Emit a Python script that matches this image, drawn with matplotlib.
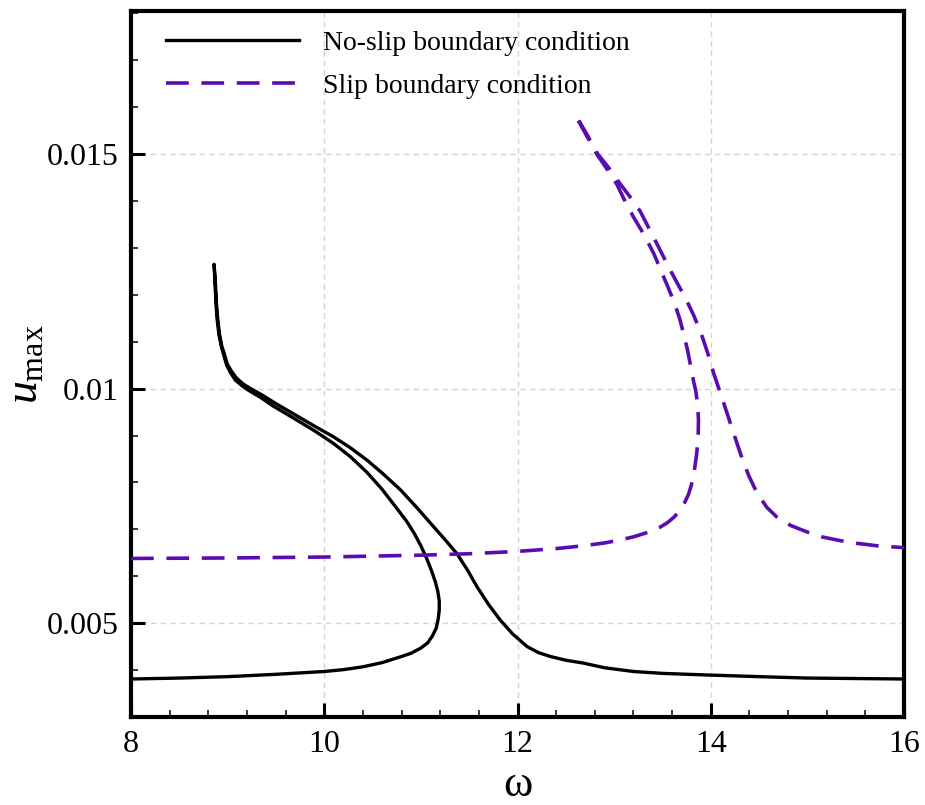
import matplotlib
matplotlib.use("Agg")
import matplotlib.pyplot as plt
from matplotlib.ticker import MultipleLocator, FuncFormatter

plt.rcParams['font.family'] = ['Liberation Serif', 'DejaVu Serif']
plt.rcParams['mathtext.fontset'] = 'custom'
plt.rcParams['mathtext.rm'] = 'Liberation Serif'
plt.rcParams['mathtext.it'] = 'Liberation Serif:italic'

# No-slip boundary condition: continuous frequency-response path
noslip_omega = [8.0, 8.5, 9.0, 9.5, 10.0, 10.2, 10.4, 10.6, 10.8, 10.9, 11.0, 11.07,
                11.12, 11.16, 11.18, 11.19, 11.19, 11.175, 11.15, 11.11, 11.06, 11.0,
                10.93, 10.85, 10.75, 10.6, 10.44, 10.27, 10.09, 9.9, 9.7, 9.47, 9.35,
                9.22, 9.15, 9.08, 9.03, 8.99, 8.955, 8.935, 8.91, 8.89, 8.88, 8.87, 8.86,
                8.875, 8.885, 8.897, 8.917, 8.94, 8.962, 8.995, 9.04, 9.09, 9.16, 9.23,
                9.36, 9.5, 9.7, 9.9, 10.09, 10.27, 10.44, 10.6, 10.79, 10.96, 11.13,
                11.25, 11.37, 11.48, 11.58, 11.7, 11.82, 11.95, 12.10, 12.22, 12.34,
                12.5, 12.68, 12.9, 13.2, 13.5, 13.9, 14.5, 15.0, 15.5, 16.0]
noslip_u = [0.00381, 0.00383, 0.00386, 0.00391, 0.00397, 0.00401, 0.00407, 0.00416,
            0.00429, 0.00436, 0.00447, 0.00458, 0.00473, 0.0049, 0.0051, 0.00528,
            0.00548, 0.00568, 0.00588, 0.00612, 0.00638, 0.00665, 0.00692, 0.00718,
            0.00745, 0.00785, 0.00822, 0.00855, 0.00884, 0.0091, 0.00935, 0.00963,
            0.00980, 0.00996, 0.01006, 0.01018, 0.01034, 0.0105, 0.01075, 0.0109,
            0.01115, 0.0115, 0.0118, 0.0122, 0.01265,
            0.0122, 0.0118, 0.0115, 0.01115, 0.0109, 0.01077, 0.01053, 0.01037,
            0.01023, 0.0101, 0.01001, 0.00986, 0.00968, 0.00944, 0.0092, 0.00898,
            0.00874, 0.00848, 0.0082, 0.00784, 0.00746, 0.00706, 0.00678, 0.00649,
            0.00614, 0.00578, 0.0054, 0.00507, 0.00477, 0.0045, 0.00437, 0.00429,
            0.00421, 0.00415, 0.00405, 0.00397, 0.00393, 0.0039, 0.00386, 0.00383,
            0.00382, 0.00381]

# Slip boundary condition
slip_omega = [8.0, 9.0, 10.0, 11.0, 11.5, 12.0, 12.4, 12.68, 12.9, 13.03, 13.2, 13.37,
              13.47, 13.55, 13.62, 13.68, 13.73, 13.77, 13.80, 13.83, 13.855, 13.87,
              13.873, 13.865, 13.845, 13.82, 13.79, 13.76, 13.72, 13.68, 13.62, 13.55,
              13.48, 13.41, 13.31, 13.2, 13.1, 13.03, 12.92, 12.82, 12.7, 12.6,
              12.71, 12.83, 12.94, 13.05, 13.16, 13.27, 13.42, 13.58, 13.74, 13.82,
              13.9, 13.97, 14.03, 14.1, 14.17, 14.24, 14.31, 14.39, 14.48, 14.58,
              14.68, 14.83, 14.99, 15.15, 15.34, 15.52, 15.72, 16.0]
slip_u = [0.00638, 0.00639, 0.00641, 0.00645, 0.00648, 0.00653, 0.00659, 0.00665,
          0.00671, 0.00676, 0.00684, 0.00695, 0.00704, 0.00714, 0.00726, 0.0074,
          0.00757, 0.00775, 0.00795, 0.00825, 0.00862, 0.009, 0.00933, 0.00965,
          0.00995, 0.01018, 0.0105, 0.01082, 0.01116, 0.01148, 0.01185, 0.0122,
          0.01254, 0.01288, 0.01328, 0.01366, 0.01405, 0.01435, 0.0147, 0.0150,
          0.01545, 0.01583,
          0.01545, 0.0150, 0.01472, 0.0144, 0.0141, 0.01378, 0.01318, 0.01253,
          0.01192, 0.01158, 0.01118, 0.01075, 0.01033, 0.0099, 0.00947, 0.00903,
          0.0086, 0.00816, 0.00777, 0.00747, 0.00727, 0.00708, 0.00695, 0.00684,
          0.00676, 0.0067, 0.00665, 0.00661]

labels = ['No-slip boundary condition', 'Slip boundary condition']
x_ticks = [8, 10, 12, 14, 16]
y_ticks = [0.005, 0.01, 0.015]

fig = plt.figure(figsize=(9.25, 8.05), dpi=100)
ax = fig.add_axes([131/925, 1-717/805, (904-131)/925, (717-11)/805])

ax.plot(noslip_omega, noslip_u, color='black', lw=2.4, label=labels[0], zorder=3,
        solid_joinstyle='round')
ax.plot(slip_omega, slip_u, color='#5A0CB0', lw=2.6, dashes=(6.3, 3.5),
        label=labels[1], zorder=3)

ax.set_xlim(8, 16)
ax.set_ylim(0.003, 0.01805)
ax.set_xticks(x_ticks)
ax.set_yticks(y_ticks)
ax.xaxis.set_minor_locator(MultipleLocator(0.4))
ax.yaxis.set_minor_locator(MultipleLocator(0.001))
ax.yaxis.set_major_formatter(FuncFormatter(lambda v, p: '%g' % v))

ax.grid(True, which='major', color='#d4d4d4', lw=1.0, ls=(0, (4, 3)), zorder=0)
for s in ax.spines.values():
    s.set_linewidth(3)
ax.tick_params(which='major', direction='in', length=10, width=2.2,
               labelsize=23, pad=9, top=False, right=False)
ax.tick_params(which='minor', direction='in', length=5, width=1.1,
               top=False, right=False)

ax.set_xlabel('ω', fontsize=32)
ax.xaxis.set_label_coords(0.5, -0.068)
ax.set_ylabel(r'$u_{\mathrm{max}}$', fontsize=33)
ax.yaxis.set_label_coords(-0.108, 0.5)

leg = ax.legend(loc='upper left', frameon=False, fontsize=20, handlelength=4.8,
                handletextpad=0.85, labelspacing=0.62,
                bbox_to_anchor=(0.02, 1.0), borderaxespad=0.3)

fig.savefig('out.png', dpi=100)
